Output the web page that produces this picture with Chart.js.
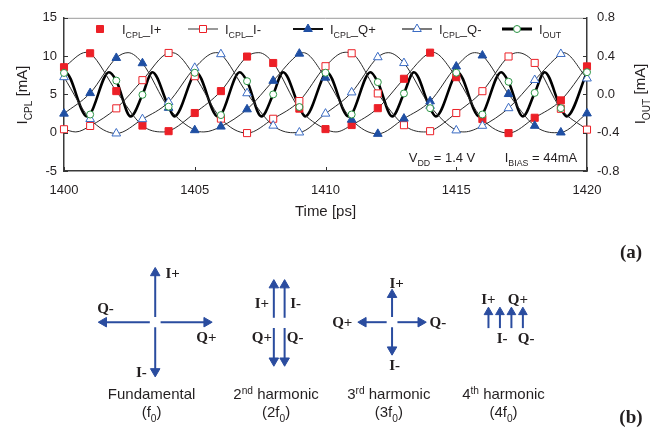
<!DOCTYPE html>
<html>
<head>
<meta charset="utf-8">
<title>Coupler currents and phasors</title>
<script src="https://cdn.jsdelivr.net/npm/chart.js@4.4.1/dist/chart.umd.min.js"></script>
<style>
  body { margin: 0; background: #fff; }
  #page { position: relative; width: 660px; height: 434px; overflow: hidden; background: #fff; }
  canvas { position: absolute; left: 0; }
  #waves { top: 0; }
  #phasors { top: 225px; }
</style>
</head>
<body>
<div id="page">
  <canvas id="waves" width="660" height="225"></canvas>
  <canvas id="phasors" width="660" height="209"></canvas>
</div>
<script>
// ---- (a) coupler currents, one marker every ps ----
const times  = [1400, 1401, 1402, 1403, 1404, 1405, 1406, 1407, 1408, 1409, 1410,
                1411, 1412, 1413, 1414, 1415, 1416, 1417, 1418, 1419, 1420];
const iPlus  = [8.55, 10.37, 5.43, 0.93, 0.2, 2.57, 5.43, 9.94, 9.1, 3.14, 0.47,
                1.0, 3.2, 7.04, 10.45, 7.25, 1.78, -0.05, 1.95, 4.22, 8.66];
const iMinus = [0.45, 0.88, 3.18, 6.86, 10.41, 7.38, 1.84, -0.05, 1.82, 4.13, 8.68,
                10.37, 5.13, 0.98, 0.2, 2.57, 5.42, 9.95, 9.11, 3.12, 0.4];
const qPlus  = [2.49, 5.17, 9.76, 9.07, 3.25, 0.33, 0.8, 3.05, 6.77, 10.32, 7.18,
                1.7, -0.15, 1.84, 4.1, 8.64, 10.08, 5.05, 0.9, 0.03, 2.52];
const qMinus = [7.25, 1.79, -0.1, 1.77, 4.0, 8.47, 10.25, 5.15, 0.92, 0.03, 2.49,
                5.26, 9.85, 9.09, 3.5, 0.3, 0.9, 3.2, 6.88, 10.28, 7.08];
const iOut   = [0.224, -0.21, 0.144, -0.004, -0.128, 0.226, -0.216, 0.138, 0, -0.132, 0.226,
                -0.21, 0.128, 0.01, -0.144, 0.226, -0.21, 0.132, 0.016, -0.144, 0.232];

// peaks / valleys of the drawn curves that fall between markers [time, value]
const iPlusTurns  = [[1400.85, 10.5], [1403.75, 0.1], [1407.45, 10.45], [1410.4, 0.1], [1414.1, 10.5]];
const iMinusTurns = [[1400.45, 0.1], [1404.15, 10.45], [1410.75, 10.5], [1413.75, 0.1], [1417.35, 10.45]];
const qPlusTurns  = [[1402.45, 10.45], [1405.35, 0.1], [1409.15, 10.45], [1415.7, 10.45], [1418.75, 0.0]];
const qMinusTurns = [[1405.8, 10.45], [1408.75, 0.0], [1412.4, 10.45], [1415.3, 0.1], [1419.1, 10.45]];
const iOutTurns   = [[1400.05, 0.232], [1400.88, -0.23], [1401.72, 0.232], [1402.55, -0.23],
                     [1403.38, 0.232], [1404.22, -0.23], [1405.05, 0.232], [1405.88, -0.23],
                     [1406.72, 0.232], [1407.55, -0.23], [1408.38, 0.232], [1409.22, -0.23],
                     [1410.05, 0.232], [1410.88, -0.23], [1411.72, 0.232], [1412.55, -0.23],
                     [1413.38, 0.232], [1414.22, -0.23], [1415.05, 0.232], [1415.88, -0.23],
                     [1416.72, 0.232], [1417.55, -0.23], [1418.38, 0.232], [1419.22, -0.23]];

const xTicks = [1400, 1405, 1410, 1415, 1420];
const yTicks = [-5, 0, 5, 10, 15];
const y1Ticks = [-0.8, -0.4, 0.0, 0.4, 0.8];

// ---- (b) phasor diagrams ----
const phaseNames = ['I+', 'I-', 'Q+', 'Q-'];
const phaseDeg = [0, 180, -90, 90];          // phase of each output at f0
const harmonicOrder = [1, 2, 3, 4];
const harmonicAmp = [1, 0.79, 0.6, 0.38];    // relative arrow length (schematic)
const harmonicCaption = [
  [[['Fundamental']], [['(f'], ['0', 'sub'], [')']]],
  [[['2'], ['nd', 'sup'], [' harmonic']], [['(2f'], ['0', 'sub'], [')']]],
  [[['3'], ['rd', 'sup'], [' harmonic']], [['(3f'], ['0', 'sub'], [')']]],
  [[['4'], ['th', 'sup'], [' harmonic']], [['(4f'], ['0', 'sub'], [')']]]
];

const SANS = '"Liberation Sans", Arial, sans-serif';
const SERIF = '"Liberation Serif", "Times New Roman", serif';
const INK = '#231f20';
const RED = '#ec2027';
const BLUE = '#1f4fa3';
const BLUE_OPEN = '#3b6cc4';
const GREEN = '#2c9545';
const ARROW = '#2a4c9f';

function pts(xs, ys) { return xs.map((x, i) => ({ x: x, y: ys[i] })); }
function curve(ys, turns) {
  return pts(times, ys).concat(turns.map(t => ({ x: t[0], y: t[1] })))
    .sort((a, b) => a.x - b.x);
}

// text made of runs: [text, 'sub' | 'sup' | undefined]
function runsWidth(ctx, runs, size, weight, family) {
  let w = 0;
  runs.forEach(r => {
    ctx.font = weight + ' ' + (r[1] ? size * 0.68 : size) + 'px ' + family;
    w += ctx.measureText(r[0]).width;
  });
  return w;
}
function drawRuns(ctx, runs, x, y, size, opt) {
  opt = opt || {};
  const weight = opt.weight || 'normal', family = opt.family || SANS;
  let cx = opt.align === 'left' ? x : x - runsWidth(ctx, runs, size, weight, family) / 2;
  ctx.fillStyle = opt.color || INK;
  ctx.textAlign = 'left';
  ctx.textBaseline = 'alphabetic';
  runs.forEach(r => {
    ctx.font = weight + ' ' + (r[1] ? size * 0.68 : size) + 'px ' + family;
    const dy = r[1] === 'sub' ? size * 0.3 : r[1] === 'sup' ? -size * 0.36 : 0;
    ctx.fillText(r[0], cx, y + dy);
    cx += ctx.measureText(r[0]).width;
  });
}
function marker(ctx, style, x, y, fill, stroke) {
  ctx.save();
  ctx.fillStyle = fill; ctx.strokeStyle = stroke; ctx.lineWidth = 1;
  ctx.beginPath();
  if (style === 'rect') ctx.rect(x - 3.5, y - 3.5, 7, 7);
  else if (style === 'triangle') { ctx.moveTo(x, y - 5); ctx.lineTo(x + 4.3, y + 2.5); ctx.lineTo(x - 4.3, y + 2.5); ctx.closePath(); }
  else ctx.arc(x, y, 3.5, 0, Math.PI * 2);
  ctx.fill(); ctx.stroke();
  ctx.restore();
}

const legendItems = [
  { runs: [['I'], ['CPL', 'sub'], ['_I+']], style: 'rect', fill: RED, stroke: RED, line: 0 },
  { runs: [['I'], ['CPL', 'sub'], ['_I-']], style: 'rect', fill: '#fff', stroke: RED, line: 1.2, lineColor: '#555' },
  { runs: [['I'], ['CPL', 'sub'], ['_Q+']], style: 'triangle', fill: BLUE, stroke: BLUE, line: 2, lineColor: '#111' },
  { runs: [['I'], ['CPL', 'sub'], ['_Q-']], style: 'triangle', fill: '#fff', stroke: BLUE_OPEN, line: 1.2, lineColor: '#222' },
  { runs: [['I'], ['OUT', 'sub']], style: 'circle', fill: '#fff', stroke: GREEN, line: 3, lineColor: '#000' }
];
const legendX = [100, 203, 308, 417, 517];

const wavesDecor = {
  id: 'wavesDecor',
  afterDraw(chart) {
    const ctx = chart.ctx, a = chart.chartArea;
    const sx = chart.scales.x, sy = chart.scales.y, sy1 = chart.scales.y1;
    ctx.save();
    // light top frame line
    ctx.strokeStyle = '#9a9a9a'; ctx.lineWidth = 1;
    ctx.beginPath(); ctx.moveTo(a.left, a.top + 0.5); ctx.lineTo(a.right, a.top + 0.5); ctx.stroke();
    // inward tick marks
    ctx.strokeStyle = '#333'; ctx.lineWidth = 1;
    ctx.beginPath();
    xTicks.forEach(v => { const x = Math.round(sx.getPixelForValue(v)) + 0.5; ctx.moveTo(x, a.bottom); ctx.lineTo(x, a.bottom - 4); });
    yTicks.forEach(v => { const y = Math.round(sy.getPixelForValue(v)) + 0.5; ctx.moveTo(a.left, y); ctx.lineTo(a.left + 4, y); });
    y1Ticks.forEach(v => { const y = Math.round(sy1.getPixelForValue(v)) + 0.5; ctx.moveTo(a.right, y); ctx.lineTo(a.right - 4, y); });
    ctx.stroke();
    // legend
    legendItems.forEach((it, i) => {
      const x = legendX[i], y = 29;
      if (it.line) {
        ctx.strokeStyle = it.lineColor; ctx.lineWidth = it.line;
        ctx.beginPath(); ctx.moveTo(x - 15, y); ctx.lineTo(x + 15, y); ctx.stroke();
      }
      marker(ctx, it.style, x, y, it.fill, it.stroke);
      drawRuns(ctx, it.runs, x + 22, y + 5, 13, { align: 'left' });
    });
    // notes
    drawRuns(ctx, [['V'], ['DD', 'sub'], [' = 1.4 V']], 442, 162, 13);
    drawRuns(ctx, [['I'], ['BIAS', 'sub'], [' = 44mA']], 541, 162, 13);
    // axis titles
    drawRuns(ctx, [['Time [ps]']], (a.left + a.right) / 2, 216, 15);
    ctx.save(); ctx.translate(22, 95); ctx.rotate(-Math.PI / 2);
    drawRuns(ctx, [['I'], ['CPL', 'sub'], [' [mA]']], 0, 5, 15);
    ctx.restore();
    ctx.save(); ctx.translate(640, 94); ctx.rotate(-Math.PI / 2);
    drawRuns(ctx, [['I'], ['OUT', 'sub'], [' [mA]']], 0, 5, 15);
    ctx.restore();
    ctx.restore();
  }
};

function lineSet(data, axis, width) {
  return { data: data, yAxisID: axis, borderColor: width > 2 ? '#000' : '#2a2a2a', borderWidth: width,
           pointRadius: 0, cubicInterpolationMode: 'monotone', order: 2 };
}
function markSet(data, axis, style, fill, stroke, r) {
  return { data: data, yAxisID: axis, showLine: false, pointStyle: style, pointRadius: r,
           pointBackgroundColor: fill, pointBorderColor: stroke, pointBorderWidth: 1,
           clip: false, order: 1 };
}
const tickFont = { family: SANS, size: 13 };
const border = { display: true, color: '#3a3a3a', width: 1.5 };
const noGrid = { display: false, drawTicks: false };

new Chart(document.getElementById('waves'), {
  type: 'line',
  data: {
    datasets: [
      lineSet(curve(iPlus, iPlusTurns), 'y', 1),
      lineSet(curve(iMinus, iMinusTurns), 'y', 1),
      lineSet(curve(qPlus, qPlusTurns), 'y', 1),
      lineSet(curve(qMinus, qMinusTurns), 'y', 1),
      lineSet(curve(iOut, iOutTurns), 'y1', 2.6),
      markSet(pts(times, iOut), 'y1', 'circle', '#fff', GREEN, 3.5),
      markSet(pts(times, qMinus), 'y', 'triangle', '#fff', BLUE_OPEN, 5),
      markSet(pts(times, qPlus), 'y', 'triangle', BLUE, BLUE, 5),
      markSet(pts(times, iMinus), 'y', 'rect', '#fff', RED, 5),
      markSet(pts(times, iPlus), 'y', 'rect', RED, RED, 5)
    ]
  },
  options: {
    responsive: false, animation: false, devicePixelRatio: 1,
    layout: { padding: { top: 17, left: 0, right: 0, bottom: 0 } },
    plugins: { legend: { display: false }, tooltip: { enabled: false } },
    scales: {
      x: {
        type: 'linear', min: 1400, max: 1420,
        afterBuildTicks: s => { s.ticks = xTicks.map(v => ({ value: v })); },
        afterFit: s => { s.height = 54; },
        ticks: { font: tickFont, color: INK, padding: 12, maxRotation: 0, callback: v => String(v) },
        grid: noGrid, border: border
      },
      y: {
        position: 'left', min: -5, max: 15,
        afterBuildTicks: s => { s.ticks = yTicks.map(v => ({ value: v })); },
        afterFit: s => { s.width = 64; },
        ticks: { font: tickFont, color: INK, padding: 7 },
        grid: noGrid, border: border
      },
      y1: {
        position: 'right', min: -0.8, max: 0.8,
        afterBuildTicks: s => { s.ticks = y1Ticks.map(v => ({ value: v })); },
        afterFit: s => { s.width = 73; },
        ticks: { font: tickFont, color: INK, padding: 10, callback: v => (Math.abs(v) < 1e-9 ? 0 : v).toFixed(1) },
        grid: noGrid, border: border
      }
    }
  },
  plugins: [wavesDecor]
});

// ---- (b) layout ----
const diagCenters = [[151.7, 321.7], [278.2, 322.5], [393.3, 321.7], [509.2, 317]];
const captionX = [148, 275, 390, 507];
const armUnit = 58, armGap = 5.5, sideStep = [0, 11, 0, 11.7], headR = [5.5, 5.5, 5.5, 5];
// label offsets from each arrow tip, order as phaseNames
const labelOffsets = [
  [[17.8, 5.7], [-14.2, -5], [-5.7, 15.3], [7.3, -14.7]],
  [[-12.2, 24.3], [11.3, 24.3], [-12.2, -30.3], [10.8, -30.3]],
  [[4.7, -7], [2.7, 11.3], [-16, 0], [12, 0]],
  [[0, -9.3], [2.3, 32.3], [6.7, -9.3], [3.3, 32.3]]
];

const arrows = [];
harmonicOrder.forEach((n, h) => {
  const angs = phaseDeg.map(p => (((90 + n * p) % 360) + 360) % 360);
  phaseNames.forEach((name, p) => {
    const ang = angs[p];
    const group = angs.map((a, k) => a === ang ? k : -1).filter(k => k >= 0);
    const k = group.indexOf(p), m = group.length;
    const hasOpposite = angs.some(a => a === (ang + 180) % 360);
    const dx = Math.round(Math.cos(ang * Math.PI / 180) * 1e6) / 1e6;
    const dy = -Math.round(Math.sin(ang * Math.PI / 180) * 1e6) / 1e6;
    const off = (k - (m - 1) / 2) * sideStep[h];
    const cx = diagCenters[h][0] + Math.abs(dy) * off, cy = diagCenters[h][1] + Math.abs(dx) * off;
    const len = armUnit * harmonicAmp[h];
    const tail = hasOpposite ? armGap : -len / 2, tip = hasOpposite ? len : len / 2;
    arrows.push({ h: h, p: p, name: name, dx: dx, dy: dy,
                  x0: cx + dx * tail, y0: cy + dy * tail, x1: cx + dx * tip, y1: cy + dy * tip });
  });
});

const phasorDecor = {
  id: 'phasorDecor',
  afterDraw(chart) {
    const ctx = chart.ctx, sx = chart.scales.x, sy = chart.scales.y;
    ctx.save();
    arrows.forEach(a => {
      const o = labelOffsets[a.h][a.p];
      const x = sx.getPixelForValue(a.x1 + o[0]), y = sy.getPixelForValue(a.y1 + o[1]);
      drawRuns(ctx, [[a.name]], x, y + 5, 15, { weight: 'bold', family: SERIF });
    });
    harmonicCaption.forEach((c, h) => {
      const x = sx.getPixelForValue(captionX[h]);
      drawRuns(ctx, c[0], x, sy.getPixelForValue(404), 15);
      drawRuns(ctx, c[1], x, sy.getPixelForValue(423), 15);
    });
    drawRuns(ctx, [['(a)']], sx.getPixelForValue(637), sy.getPixelForValue(253), 19, { weight: 'bold', family: SERIF });
    drawRuns(ctx, [['(b)']], sx.getPixelForValue(637), sy.getPixelForValue(429), 19, { weight: 'bold', family: SERIF });
    ctx.restore();
  }
};

new Chart(document.getElementById('phasors'), {
  type: 'line',
  data: {
    datasets: arrows.map(a => {
      const r = headR[a.h];
      return {
        data: [{ x: a.x0, y: a.y0 }, { x: a.x1 - a.dx * r, y: a.y1 - a.dy * r }],
        borderColor: ARROW, borderWidth: 2,
        pointRadius: [0, r], pointStyle: 'triangle',
        pointRotation: [0, Math.atan2(a.dx, -a.dy) * 180 / Math.PI],
        pointBackgroundColor: ARROW, pointBorderColor: ARROW, pointBorderWidth: 1,
        clip: false
      };
    })
  },
  options: {
    responsive: false, animation: false, devicePixelRatio: 1,
    layout: { padding: 0 },
    plugins: { legend: { display: false }, tooltip: { enabled: false } },
    scales: {
      x: { type: 'linear', display: false, min: 0, max: 660 },
      y: { type: 'linear', display: false, min: 225, max: 434, reverse: true }
    }
  },
  plugins: [phasorDecor]
});
</script>
</body>
</html>
